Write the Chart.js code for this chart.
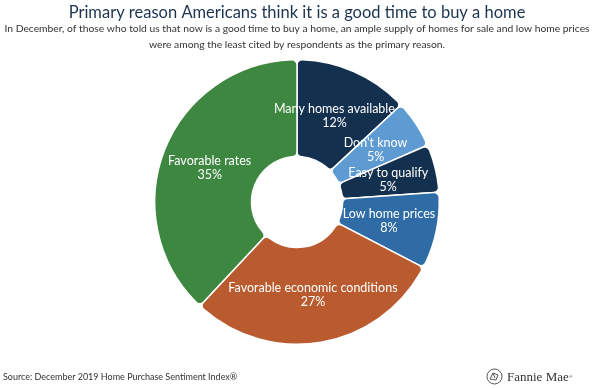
<!DOCTYPE html>
<html>
<head>
<meta charset="utf-8">
<script src="https://cdn.jsdelivr.net/npm/chart.js@4"></script>
<style>
  html, body { margin: 0; padding: 0; background: #fff; }
  #wrap { position: relative; width: 600px; height: 388px; }
  #source { position: absolute; left: 3px; top: 371px; font: 9px Lato, sans-serif; color: #333; }
  #logo { position: absolute; left: 486px; top: 368px; display: flex; align-items: center; font: 13px "Liberation Serif", "DejaVu Serif", serif; color: #333; }
  #logo svg { margin-right: 4px; }
  #logo sup { font-size: 5px; }
</style>
</head>
<body>
<div id="wrap">
  <canvas id="c" width="600" height="388"></canvas>
  <div id="source">Source: December 2019 Home Purchase Sentiment Index®</div>
  <div id="logo"><svg width="17" height="17" viewBox="0 0 17 17"><circle cx="8.5" cy="8.5" r="7.5" fill="none" stroke="#555" stroke-width="1"/><path d="M4 11 L7 5 L12 7 L10 12 Z M7 5 L9 10" fill="none" stroke="#555" stroke-width="1"/></svg>Fannie Mae<sup>®</sup></div>
</div>
<script>
const categories = ["Many homes available", "Don't know", "Easy to qualify", "Low home prices", "Favorable economic conditions", "Favorable rates"];
const values = [12, 5, 5, 8, 27, 35];
const colors = ["#14304f", "#5f9bd3", "#14304f", "#2f6ca6", "#b95b2f", "#3e8741"];
const titleText = "Primary reason Americans think it is a good time to buy a home";
const subtitleLines = [
  "In December, of those who told us that now is a good time to buy a home, an ample supply of homes for sale and low home prices",
  "were among the least cited by respondents as the primary reason."
];

const labelPlugin = {
  id: 'sliceLabels',
  afterDatasetsDraw(chart) {
    const ctx = chart.ctx;
    const meta = chart.getDatasetMeta(0);
    ctx.save();
    ctx.fillStyle = '#ffffff';
    ctx.font = '12.5px Lato, sans-serif';
    ctx.textAlign = 'center';
    ctx.textBaseline = 'middle';
    meta.data.forEach((arc, i) => {
      const p = arc.tooltipPosition();
      ctx.fillText(categories[i], p.x, p.y - 7);
      ctx.fillText(values[i] + '%', p.x, p.y + 7);
    });
    ctx.restore();
  }
};

new Chart(document.getElementById('c'), {
  type: 'doughnut',
  data: {
    labels: categories,
    datasets: [{
      data: values,
      backgroundColor: colors,
      borderColor: '#ffffff',
      borderWidth: 1.5,
      borderRadius: 5
    }]
  },
  options: {
    responsive: false,
    animation: false,
    cutout: '32%',
    layout: { padding: { left: 0, right: 6, top: 0, bottom: 43 } },
    plugins: {
      legend: { display: false },
      tooltip: { enabled: false },
      title: {
        display: true,
        text: titleText,
        color: '#1c3450',
        font: { family: 'Lato', size: 16.5, weight: 'normal', lineHeight: 1.0 },
        padding: { top: 4, bottom: 0.5 }
      },
      subtitle: {
        display: true,
        text: subtitleLines,
        color: '#333333',
        font: { family: 'Lato', size: 10.3, lineHeight: 1.55 },
        padding: { top: 0, bottom: 6 }
      }
    }
  },
  plugins: [labelPlugin]
});
</script>
</body>
</html>
